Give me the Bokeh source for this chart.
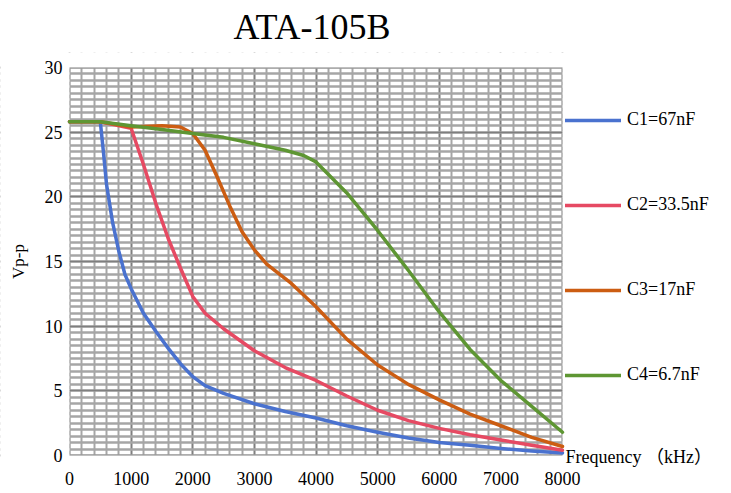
import math
from bokeh.plotting import figure
from bokeh.models import SingleIntervalTicker, Legend, LegendItem, Label, Range1d, BoxAnnotation
from bokeh.embed import file_html
from bokeh.resources import INLINE

TITLE = "ATA-105B"
Y_LABEL = "Vp-p"
X_LABEL = "Frequency （kHz）"

c1_x = [0, 500, 550, 600, 700, 800, 900, 1000, 1200, 1400, 1600, 1800, 2000, 2200, 2500, 3000, 3500, 4000, 4500, 5000, 5500, 6000, 6500, 7000, 7500, 8000]
c1_y = [25.8, 25.8, 23.5, 21.0, 18.0, 15.8, 14.0, 12.9, 11.0, 9.6, 8.3, 7.1, 6.1, 5.4, 4.8, 4.0, 3.4, 2.9, 2.3, 1.8, 1.35, 1.0, 0.8, 0.55, 0.35, 0.2]

c2_x = [0, 500, 1000, 1200, 1400, 1600, 1800, 2000, 2200, 2500, 3000, 3500, 4000, 4500, 5000, 5500, 6000, 6500, 7000, 7500, 8000]
c2_y = [25.8, 25.8, 25.3, 22.5, 19.5, 16.8, 14.5, 12.3, 11.0, 9.8, 8.1, 6.8, 5.8, 4.6, 3.5, 2.7, 2.1, 1.6, 1.2, 0.8, 0.4]

c3_x = [0, 500, 1000, 1500, 1800, 2000, 2200, 2400, 2600, 2800, 3000, 3200, 3600, 4000, 4500, 5000, 5500, 6000, 6500, 7000, 7500, 8000]
c3_y = [25.8, 25.8, 25.4, 25.5, 25.4, 24.9, 23.6, 21.5, 19.3, 17.3, 15.9, 14.8, 13.3, 11.5, 9.0, 7.0, 5.5, 4.3, 3.2, 2.3, 1.4, 0.7]

c4_x = [0, 500, 1000, 1500, 2000, 2500, 3000, 3500, 3800, 4000, 4500, 5000, 5500, 6000, 6500, 7000, 7500, 8000]
c4_y = [25.8, 25.8, 25.5, 25.2, 24.9, 24.6, 24.1, 23.6, 23.2, 22.7, 20.3, 17.4, 14.3, 11.1, 8.2, 5.8, 3.8, 1.8]

series_names = ["C1=67nF", "C2=33.5nF", "C3=17nF", "C4=6.7nF"]
series_colors = ["#4a72cf", "#e64a63", "#cc5d12", "#5e9633"]

X_MIN, X_MAX = 0, 8000
Y_MIN, Y_MAX = 0, 30

SERIF = "'Liberation Serif', 'Noto Sans CJK SC', serif"

# layout (pixels): chart area spans L..R horizontally, T..B vertically
W, H = 731, 493
L, R, T, B = 69, 562, 67, 455
TOP_BORDER = 52
x_per_px = (X_MAX - X_MIN) / (R - L)
y_per_px = (Y_MAX - Y_MIN) / (B - T)
x_start = X_MIN - x_per_px * L
x_end = X_MAX + x_per_px * (W - R)
y_start = Y_MIN - y_per_px * (H - B)
y_end = Y_MAX + y_per_px * (T - TOP_BORDER)

p = figure(width=W, height=H, output_backend="svg", toolbar_location=None,
           x_range=Range1d(x_start, x_end), y_range=Range1d(y_start, y_end),
           min_border_left=0, min_border_right=0, min_border_top=TOP_BORDER, min_border_bottom=0)

p.title.text = TITLE
p.title.align = "left"
p.title.vertical_align = "top"
p.title.offset = 233
p.title.standoff = 8
p.title.text_font = SERIF
p.title.text_font_size = "36px"
p.title.text_font_style = "normal"
p.title.text_color = "#000000"

p.xaxis.ticker = SingleIntervalTicker(interval=1000, num_minor_ticks=5)
p.yaxis.ticker = SingleIntervalTicker(interval=5, num_minor_ticks=10)
for ax in (p.xaxis[0], p.yaxis[0]):
    ax.axis_line_color = None
    ax.major_tick_line_color = None
    ax.minor_tick_line_color = None
    ax.major_tick_out = 0
    ax.minor_tick_out = 0
    ax.major_label_text_font = SERIF
    ax.major_label_text_font_size = "18px"
    ax.major_label_text_color = "#000000"
p.xaxis.bounds = (X_MIN, X_MAX)
p.xaxis.fixed_location = Y_MIN
p.yaxis.bounds = (Y_MIN, Y_MAX)
p.yaxis.fixed_location = X_MIN
p.xaxis.major_label_standoff = 16
p.yaxis.major_label_standoff = 7

p.xgrid.bounds = (X_MIN, X_MAX)
p.ygrid.bounds = (Y_MIN, Y_MAX)
p.xgrid.grid_line_color = "#7f7f7f"
p.xgrid.grid_line_width = 1.5
p.xgrid.minor_grid_line_color = "#a6a6a6"
p.xgrid.minor_grid_line_width = 2
p.ygrid.grid_line_color = "#7f7f7f"
p.ygrid.grid_line_width = 1.5
p.ygrid.minor_grid_line_color = "#a6a6a6"
p.ygrid.minor_grid_line_width = 2.5
p.outline_line_color = None

# hide the grid outside the chart area
for box in (BoxAnnotation(left=X_MAX), BoxAnnotation(right=X_MIN),
            BoxAnnotation(top=Y_MIN), BoxAnnotation(bottom=Y_MAX)):
    box.fill_color = "white"
    box.fill_alpha = 1
    box.line_color = None
    box.level = "underlay"
    p.add_layout(box)

items = []
for xs, ys, name, col in zip([c1_x, c2_x, c3_x, c4_x], [c1_y, c2_y, c3_y, c4_y], series_names, series_colors):
    r = p.line(xs, ys, line_color=col, line_width=3.5, line_join="round", line_cap="round")
    items.append(LegendItem(label=name, renderers=[r]))

legend = Legend(items=items, location=(R + 3, 108), orientation="vertical",
                glyph_width=56, glyph_height=20, label_height=20, label_standoff=6,
                spacing=64, padding=0, margin=0,
                label_text_font=SERIF, label_text_font_size="18px", label_text_color="#000000",
                border_line_color=None, background_fill_alpha=0)
p.add_layout(legend)

xl = Label(x=X_MAX, y=Y_MIN, text=X_LABEL, x_offset=3, y_offset=-1, text_baseline="middle", text_align="left",
           text_font=SERIF, text_font_size="18px", text_color="#000000")
p.add_layout(xl)

yl = Label(x=X_MIN, y=(Y_MIN + Y_MAX) / 2, text=Y_LABEL, x_offset=-51, angle=math.pi / 2,
           text_baseline="middle", text_align="center",
           text_font=SERIF, text_font_size="17px", text_color="#000000")
p.add_layout(yl)

open("out.html", "w").write(file_html(p, INLINE))
